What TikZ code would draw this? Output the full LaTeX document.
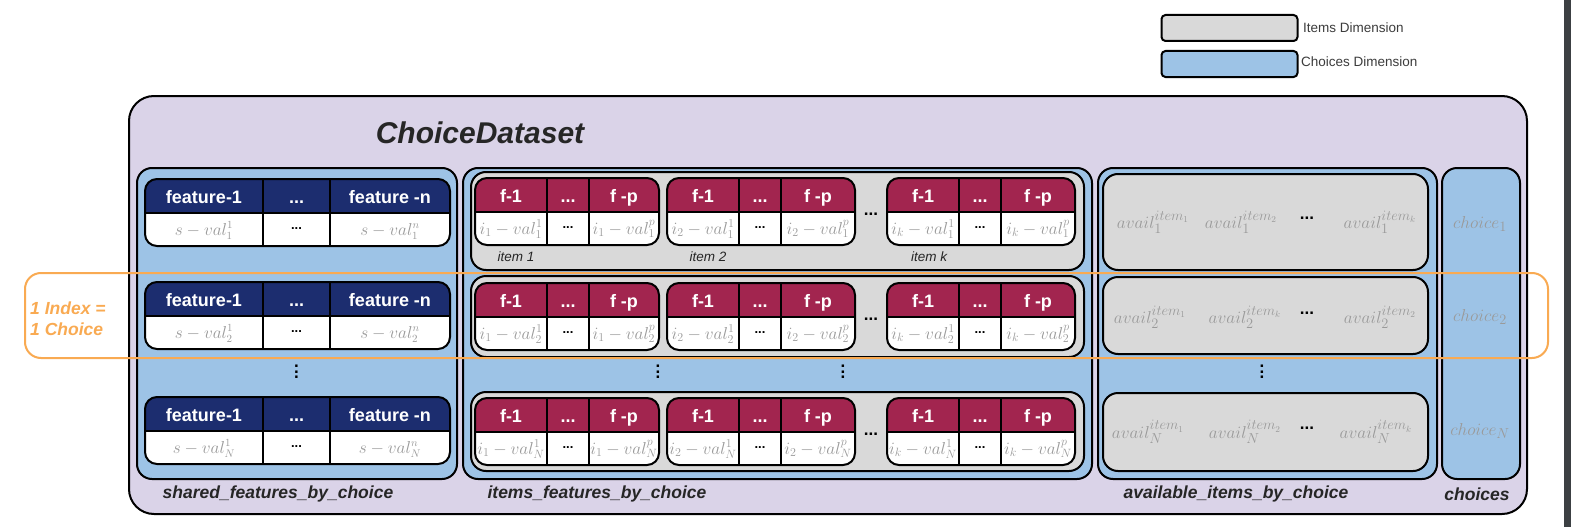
\documentclass[tikz,border=0pt]{standalone}
\usepackage{fontspec}
\usepackage{graphicx}
\setmainfont{Liberation Sans}
\definecolor{purplebg}{HTML}{DAD3E8}
\definecolor{bluebg}{HTML}{9DC3E6}
\definecolor{graybg}{HTML}{D9D9D9}
\definecolor{navy}{HTML}{1C2D6F}
\definecolor{maroon}{HTML}{A2254F}
\definecolor{valgray}{HTML}{9A9A9A}
\definecolor{darktext}{HTML}{262626}
\definecolor{idxorange}{HTML}{F9AA52}
\definecolor{stripcol}{HTML}{3C4043}
\newcommand\vdotsB{\vbox{\baselineskip=5.5pt\lineskiplimit=0pt\hbox{.}\hbox{.}\hbox{.}}}
\tikzset{
  box/.style={draw=black, line width=2pt, rounded corners=#1, inner sep=0pt},
  tline/.style={draw=black, line width=2pt},
  hdr/.style={anchor=base, text=white, inner sep=0pt, font=\bfseries\fontsize{18}{20}\selectfont},
  sval/.style={anchor=base, text=valgray, inner sep=0pt, font=\fontsize{16}{18}\selectfont},
  ival/.style={anchor=base, text=valgray, inner sep=0pt, font=\fontsize{17.5}{18}\selectfont},
  aval/.style={text=valgray, inner sep=0pt, font=\fontsize{19}{20}\selectfont},
  cdots/.style={anchor=base, text=black, inner sep=0pt, font=\bfseries\fontsize{13}{14}\selectfont},
  bdots/.style={text=black, inner sep=0pt, font=\bfseries\fontsize{17}{18}\selectfont},
  vdts/.style={text=black, inner sep=0pt, font=\bfseries\fontsize{17}{18}\selectfont},
  lbl/.style={text=darktext, inner sep=0pt, font=\bfseries\itshape\fontsize{17.5}{20}\selectfont},
  itlbl/.style={text=darktext, inner sep=0pt, font=\itshape\fontsize{13.5}{15}\selectfont},
  legtxt/.style={anchor=west, text=darktext!90, inner sep=0pt, font=\fontsize{13.5}{15}\selectfont},
}
\newcommand\tblbody[6]{%
  \begin{scope}
    \clip[rounded corners=12pt] (#1,#5) rectangle (#4,#5+67);
    \fill[#6] (#1,#5) rectangle (#4,#5+34);
    \fill[white] (#1,#5+34) rectangle (#4,#5+67);
  \end{scope}
  \draw[tline] (#1,#5+34) -- (#4,#5+34) (#2,#5) -- (#2,#5+67) (#3,#5) -- (#3,#5+67);
  \draw[tline, rounded corners=12pt] (#1,#5) rectangle (#4,#5+67);
}
\newcommand\stbl[3]{%
  \tblbody{145}{263}{330}{450}{#2}{navy}
  \node[hdr] (#1h1) at (204,#2+24) {feature-1};
  \node[hdr] (#1h2) at (296.5,#2+24) {...};
  \node[hdr] (#1h3) at (390,#2+24) {feature -n};
  \node[sval] (#1v1) at (204,#2+56) {$s-val_{#3}^{1}$};
  \node[cdots] (#1v2) at (296.5,#2+50) {...};
  \node[sval] (#1v3) at (390,#2+56) {$s-val_{#3}^{n}$};
}
\newcommand\itbl[6]{%
  \tblbody{#2}{#2+72}{#2+114}{#3}{#4}{maroon}
  \node[hdr] (#1h1) at ({#2+36},#4+24) {f-1};
  \node[hdr] (#1h2) at ({#2+93},#4+24) {...};
  \node[hdr] (#1h3) at ({(#2+114+#3)/2},#4+24) {f -p};
  \node[ival] (#1v1) at ({#2+36},#4+56) {$i_{#5}-val_{#6}^{1}$};
  \node[cdots] (#1v2) at ({#2+93},#4+50) {...};
  \node[ival] (#1v3) at ({(#2+114+#3)/2},#4+56) {$i_{#5}-val_{#6}^{p}$};
}
\begin{document}
\begin{tikzpicture}[x=1pt,y=-1pt]
\useasboundingbox (0,0) rectangle (1571,527);
\fill[white] (0,0) rectangle (1571,527);
\fill[stripcol] (1564,0) rectangle (1571,527);

% legend
\node[box=4pt, fill=graybg, minimum width=136pt, minimum height=26pt] (legitems) at (1229.5,28) {};
\node[legtxt] (legitemstxt) at (1303,28) {Items Dimension};
\node[box=4pt, fill=bluebg, minimum width=136pt, minimum height=26pt] (legchoices) at (1229.5,64) {};
\node[legtxt] (legchoicestxt) at (1301,62) {Choices Dimension};

% main container
\node[box=25pt, fill=purplebg, minimum width=1398pt, minimum height=418pt] (dataset) at (828,305) {};
\node[text=darktext, inner sep=0pt, font=\bfseries\itshape\fontsize{30}{34}\selectfont] (title) at (480,133) {ChoiceDataset};

% blue columns
\node[box=15pt, fill=bluebg, minimum width=320pt, minimum height=311pt] (shared) at (297,323.5) {};
\node[box=15pt, fill=bluebg, minimum width=629pt, minimum height=311pt] (items) at (777.5,323.5) {};
\node[box=15pt, fill=bluebg, minimum width=339pt, minimum height=311pt] (avail) at (1267.5,323.5) {};
\node[box=15pt, fill=bluebg, minimum width=78pt, minimum height=311pt] (choices) at (1481,323.5) {};

% shared features tables
\stbl{sa}{179}{1}
\stbl{sb}{282}{2}
\stbl{sc}{397}{N}
\node[vdts] (sdots) at (296.5,372) {\vdotsB};

% items gray rows
\node[box=15pt, fill=graybg, minimum width=613pt, minimum height=98pt] (irow1) at (777.5,221) {};
\node[box=15pt, fill=graybg, minimum width=613pt, minimum height=81pt] (irow2) at (777.5,316.5) {};
\node[box=15pt, fill=graybg, minimum width=613pt, minimum height=79pt] (irow3) at (777.5,431.5) {};

\itbl{ia1}{475}{659}{178}{1}{1}
\itbl{ia2}{667}{855}{178}{2}{1}
\itbl{iak}{887}{1075}{178}{k}{1}
\itbl{ib1}{475}{659}{283}{1}{2}
\itbl{ib2}{667}{855}{283}{2}{2}
\itbl{ibk}{887}{1075}{283}{k}{2}
\itbl{ic1}{475}{659}{398}{1}{N}
\itbl{ic2}{667}{855}{398}{2}{N}
\itbl{ick}{887}{1075}{398}{k}{N}
\node[bdots] (iadots) at (871,214) {...};
\node[bdots] (ibdots) at (871,319) {...};
\node[bdots] (icdots) at (871,434) {...};
\node[itlbl] (item1) at (516,257) {item 1};
\node[itlbl] (item2) at (708,257) {item 2};
\node[itlbl] (itemk) at (929,257) {item k};
\node[vdts] (idots1) at (658,372) {\vdotsB};
\node[vdts] (idots2) at (843,372) {\vdotsB};

% availability rows
\node[box=15pt, fill=graybg, minimum width=325pt, minimum height=96pt] (arow1) at (1265.5,222) {};
\node[box=15pt, fill=graybg, minimum width=325pt, minimum height=77pt] (arow2) at (1265.5,315.5) {};
\node[box=15pt, fill=graybg, minimum width=325pt, minimum height=78pt] (arow3) at (1265.5,432) {};
\node[aval] (a11) at (1153,222) {$avail_{1}^{item_1}$};
\node[aval] (a12) at (1241,222) {$avail_{1}^{item_2}$};
\node[bdots] (a1d) at (1307,218) {...};
\node[aval] (a1k) at (1380,222) {$avail_{1}^{item_k}$};
\node[aval] (a21) at (1150,317) {$avail_{2}^{item_1}$};
\node[aval] (a2k) at (1245,317) {$avail_{2}^{item_k}$};
\node[bdots] (a2d) at (1307,313) {...};
\node[aval] (a22) at (1380,317) {$avail_{2}^{item_2}$};
\node[aval] (aN1) at (1148,432) {$avail_{N}^{item_1}$};
\node[aval] (aN2) at (1245,432) {$avail_{N}^{item_2}$};
\node[bdots] (aNd) at (1307,428) {...};
\node[aval] (aNk) at (1376,432) {$avail_{N}^{item_k}$};
\node[vdts] (adots) at (1262,372) {\vdotsB};

% choices
\node[aval] (c1) at (1480,224) {$choice_{1}$};
\node[aval] (c2) at (1480,317) {$choice_{2}$};
\node[aval] (cN) at (1480,431) {$choice_{N}$};

% bottom labels
\node[lbl] (lshared) at (278,494) {shared\_features\_by\_choice};
\node[lbl] (litems) at (597,494) {items\_features\_by\_choice};
\node[lbl] (lavail) at (1236,494) {available\_items\_by\_choice};
\node[lbl] (lchoices) at (1477,494) {choices};

% index highlight
\node[draw=idxorange, line width=2pt, rounded corners=16pt, inner sep=0pt, minimum width=1523pt, minimum height=85pt] (index) at (786.5,315.5) {};
\node[anchor=west, align=left, text=idxorange, inner sep=0pt, font=\bfseries\itshape\fontsize{17.5}{21}\selectfont] (indextxt) at (30,319) {1 Index =\\1 Choice};
\end{tikzpicture}
\end{document}
